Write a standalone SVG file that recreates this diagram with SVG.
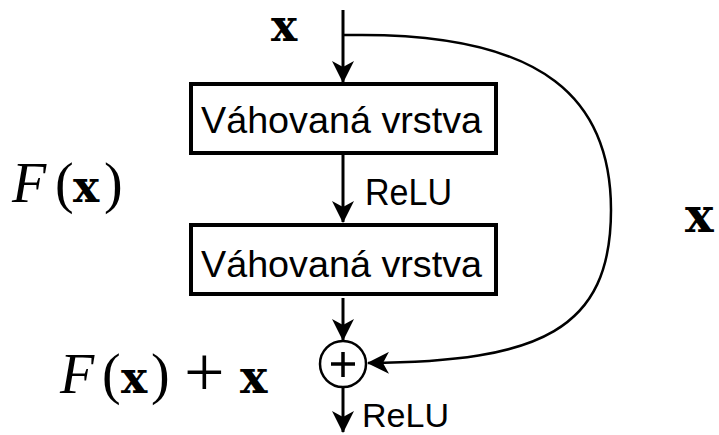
<svg xmlns="http://www.w3.org/2000/svg" width="719" height="435" viewBox="0 0 719 435">
<style>
.box{fill:#fff;stroke:#000;stroke-width:4}
.lbl{font-family:"Liberation Sans",Arial,sans-serif;font-size:36px;fill:#000}
.wire{fill:none;stroke:#000;stroke-width:3}
.skip{fill:none;stroke:#000;stroke-width:2.5}
.mx{font-family:"DejaVu Serif","Liberation Serif",serif;font-weight:bold;font-size:44px;fill:#000}
.mr{font-family:"Liberation Serif","Times New Roman",serif;font-size:56px;fill:#000}
.mf{font-family:"Liberation Serif","Times New Roman",serif;font-style:italic;font-size:56px;fill:#000}
</style>
<defs>
<marker id="ah" viewBox="0 0 22 22" refX="21" refY="11" markerWidth="22" markerHeight="22" markerUnits="userSpaceOnUse" orient="auto">
<path d="M0,0 L22,11 L0,22 L6,11 Z" fill="#000"/>
</marker>
</defs>
<g id="connectors">
<line class="wire" x1="343" y1="10" x2="343" y2="82" marker-end="url(#ah)"/>
<line class="wire" x1="343" y1="155" x2="343" y2="222" marker-end="url(#ah)"/>
<line class="wire" x1="343" y1="298" x2="343" y2="340" marker-end="url(#ah)"/>
<line class="wire" x1="343" y1="387" x2="343" y2="432" marker-end="url(#ah)"/>
<path class="skip" d="M343,35 L362,35 C545,35 611,100 611,210 C611,330 540,362 368,363" marker-end="url(#ah)"/>
</g>
<g id="in-x"><text class="mx" x="271" y="41" style="font-size:44px">x</text></g>
<g id="layer1">
<rect class="box" x="191" y="84" width="305" height="69"/>
<text class="lbl" x="201" y="133" textLength="281" lengthAdjust="spacingAndGlyphs">Váhovaná vrstva</text>
</g>
<g id="relu1"><text class="lbl" x="365" y="205" textLength="87" lengthAdjust="spacingAndGlyphs">ReLU</text></g>
<g id="layer2">
<rect class="box" x="191" y="225" width="305" height="69"/>
<text class="lbl" x="201" y="277" textLength="281" lengthAdjust="spacingAndGlyphs">Váhovaná vrstva</text>
</g>
<g id="sum">
<circle cx="343" cy="364" r="23" fill="#fff" stroke="#000" stroke-width="2.5"/>
<line x1="331" y1="364" x2="355" y2="364" stroke="#000" stroke-width="3.5"/>
<line x1="343" y1="352" x2="343" y2="377" stroke="#000" stroke-width="3.5"/>
</g>
<g id="relu2"><text class="lbl" x="362" y="427" style="font-size:34px" textLength="87" lengthAdjust="spacingAndGlyphs">ReLU</text></g>
<g id="label-Fx">
<text class="mf" x="12" y="202">F</text>
<text class="mr" x="55" y="202">(</text>
<text class="mx" x="73" y="202">x</text>
<text class="mr" x="104" y="202">)</text>
</g>
<g id="label-Fx-plus-x">
<text class="mf" x="60" y="393">F</text>
<text class="mr" x="102" y="393">(</text>
<text class="mx" x="121" y="393">x</text>
<text class="mr" x="151" y="393">)</text>
<text class="mr" x="184" y="396" style="font-size:72px">+</text>
<text class="mx" x="240" y="393" style="font-size:46px">x</text>
</g>
<g id="label-x-skip"><text class="mx" x="685" y="232" style="font-size:48px">x</text></g>
</svg>
